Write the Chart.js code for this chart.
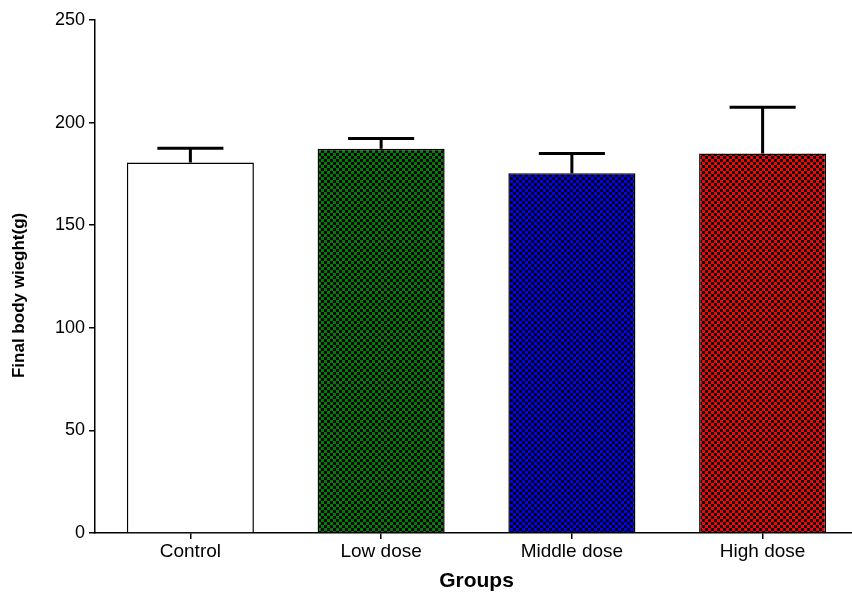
<!DOCTYPE html>
<html>
<head>
<meta charset="utf-8">
<script src="https://cdn.jsdelivr.net/npm/chart.js@4/dist/chart.umd.min.js"></script>
<style>
  html, body { margin: 0; padding: 0; background: #fff; overflow: hidden; }
  #wrap { width: 862px; height: 594px; }
</style>
</head>
<body>
<div id="wrap"><canvas id="myChart" width="862" height="594"></canvas></div>
<script>
// dados do grafico
var groups = ['Control', 'Low dose', 'Middle dose', 'High dose'];
var meanWeight = [180.5, 187.3, 175.3, 185.0];
var errWeight = [7.0, 5.0, 9.7, 22.5];
var yTicks = [0, 50, 100, 150, 200, 250];
var barColors = ['#ffffff', '#008000', '#0000ff', '#ff0000'];

// padrao xadrez (preto + cor)
function checker(cor) {
    if (cor === '#ffffff') return cor;
    var c = document.createElement('canvas');
    c.width = 6; c.height = 6;
    var g = c.getContext('2d');
    g.fillStyle = '#000';
    g.fillRect(0, 0, 6, 6);
    g.fillStyle = cor;
    g.fillRect(0, 0, 3, 3);
    g.fillRect(3, 3, 3, 3);
    return g.createPattern(c, 'repeat');
}

// barras de erro (so para cima)
var errorBars = {
    id: 'errorBars',
    afterDatasetsDraw: function (chart) {
        var ctx = chart.ctx;
        var yScale = chart.scales.y;
        var meta = chart.getDatasetMeta(0);
        ctx.save();
        ctx.strokeStyle = '#000';
        ctx.lineWidth = 3;
        meta.data.forEach(function (bar, i) {
            var yTop = yScale.getPixelForValue(meanWeight[i] + errWeight[i]);
            var yBar = yScale.getPixelForValue(meanWeight[i]);
            var half = bar.width * 0.26;
            ctx.beginPath();
            ctx.moveTo(bar.x, yBar);
            ctx.lineTo(bar.x, yTop);
            ctx.moveTo(bar.x - half, yTop);
            ctx.lineTo(bar.x + half, yTop);
            ctx.stroke();
        });
        ctx.restore();
    }
};

var ctx = document.getElementById('myChart').getContext('2d');
var myBarChart = new Chart(ctx, {
    type: 'bar',
    data: {
        labels: groups,
        datasets: [{
            data: meanWeight,
            backgroundColor: barColors.map(checker),
            borderColor: ['#000', '#000', '#000', '#000'],
            borderWidth: 1.5,
            barPercentage: 0.666,
            categoryPercentage: 1.0
        }]
    },
    options: {
        responsive: false,
        animation: false,
        layout: { padding: { top: 20, right: 4, left: 0, bottom: 0 } },
        plugins: { legend: { display: false }, tooltip: { enabled: false } },
        scales: {
            x: {
                grid: { display: true, drawOnChartArea: false, offset: false, color: '#000', tickLength: 6, lineWidth: 1.5 },
                border: { display: true, color: '#000', width: 1.5 },
                ticks: { color: '#000', font: { family: 'Liberation Sans, Arial', size: 19 }, padding: 1, maxRotation: 0 },
                title: { display: true, text: 'Groups', color: '#000', font: { family: 'Liberation Sans, Arial', size: 21, weight: 'bold' }, padding: { top: 1, bottom: 0 } },
                afterFit: function (s) { s.height = 61; }
            },
            y: {
                min: 0,
                max: 250,
                afterBuildTicks: function (s) { s.ticks = yTicks.map(function (v) { return { value: v }; }); },
                grid: { display: true, drawOnChartArea: false, color: '#000', tickLength: 6, lineWidth: 1.5 },
                border: { display: true, color: '#000', width: 1.5 },
                ticks: { color: '#000', font: { family: 'Liberation Sans, Arial', size: 18 }, padding: 4 },
                title: { display: true, text: 'Final body wieght(g)        ', color: '#000', font: { family: 'Liberation Sans, Arial', size: 17, weight: 'bold' }, padding: { top: 9, bottom: 0 } },
                afterFit: function (s) { s.width = 95; }
            }
        }
    },
    plugins: [errorBars]
});
</script>
</body>
</html>
